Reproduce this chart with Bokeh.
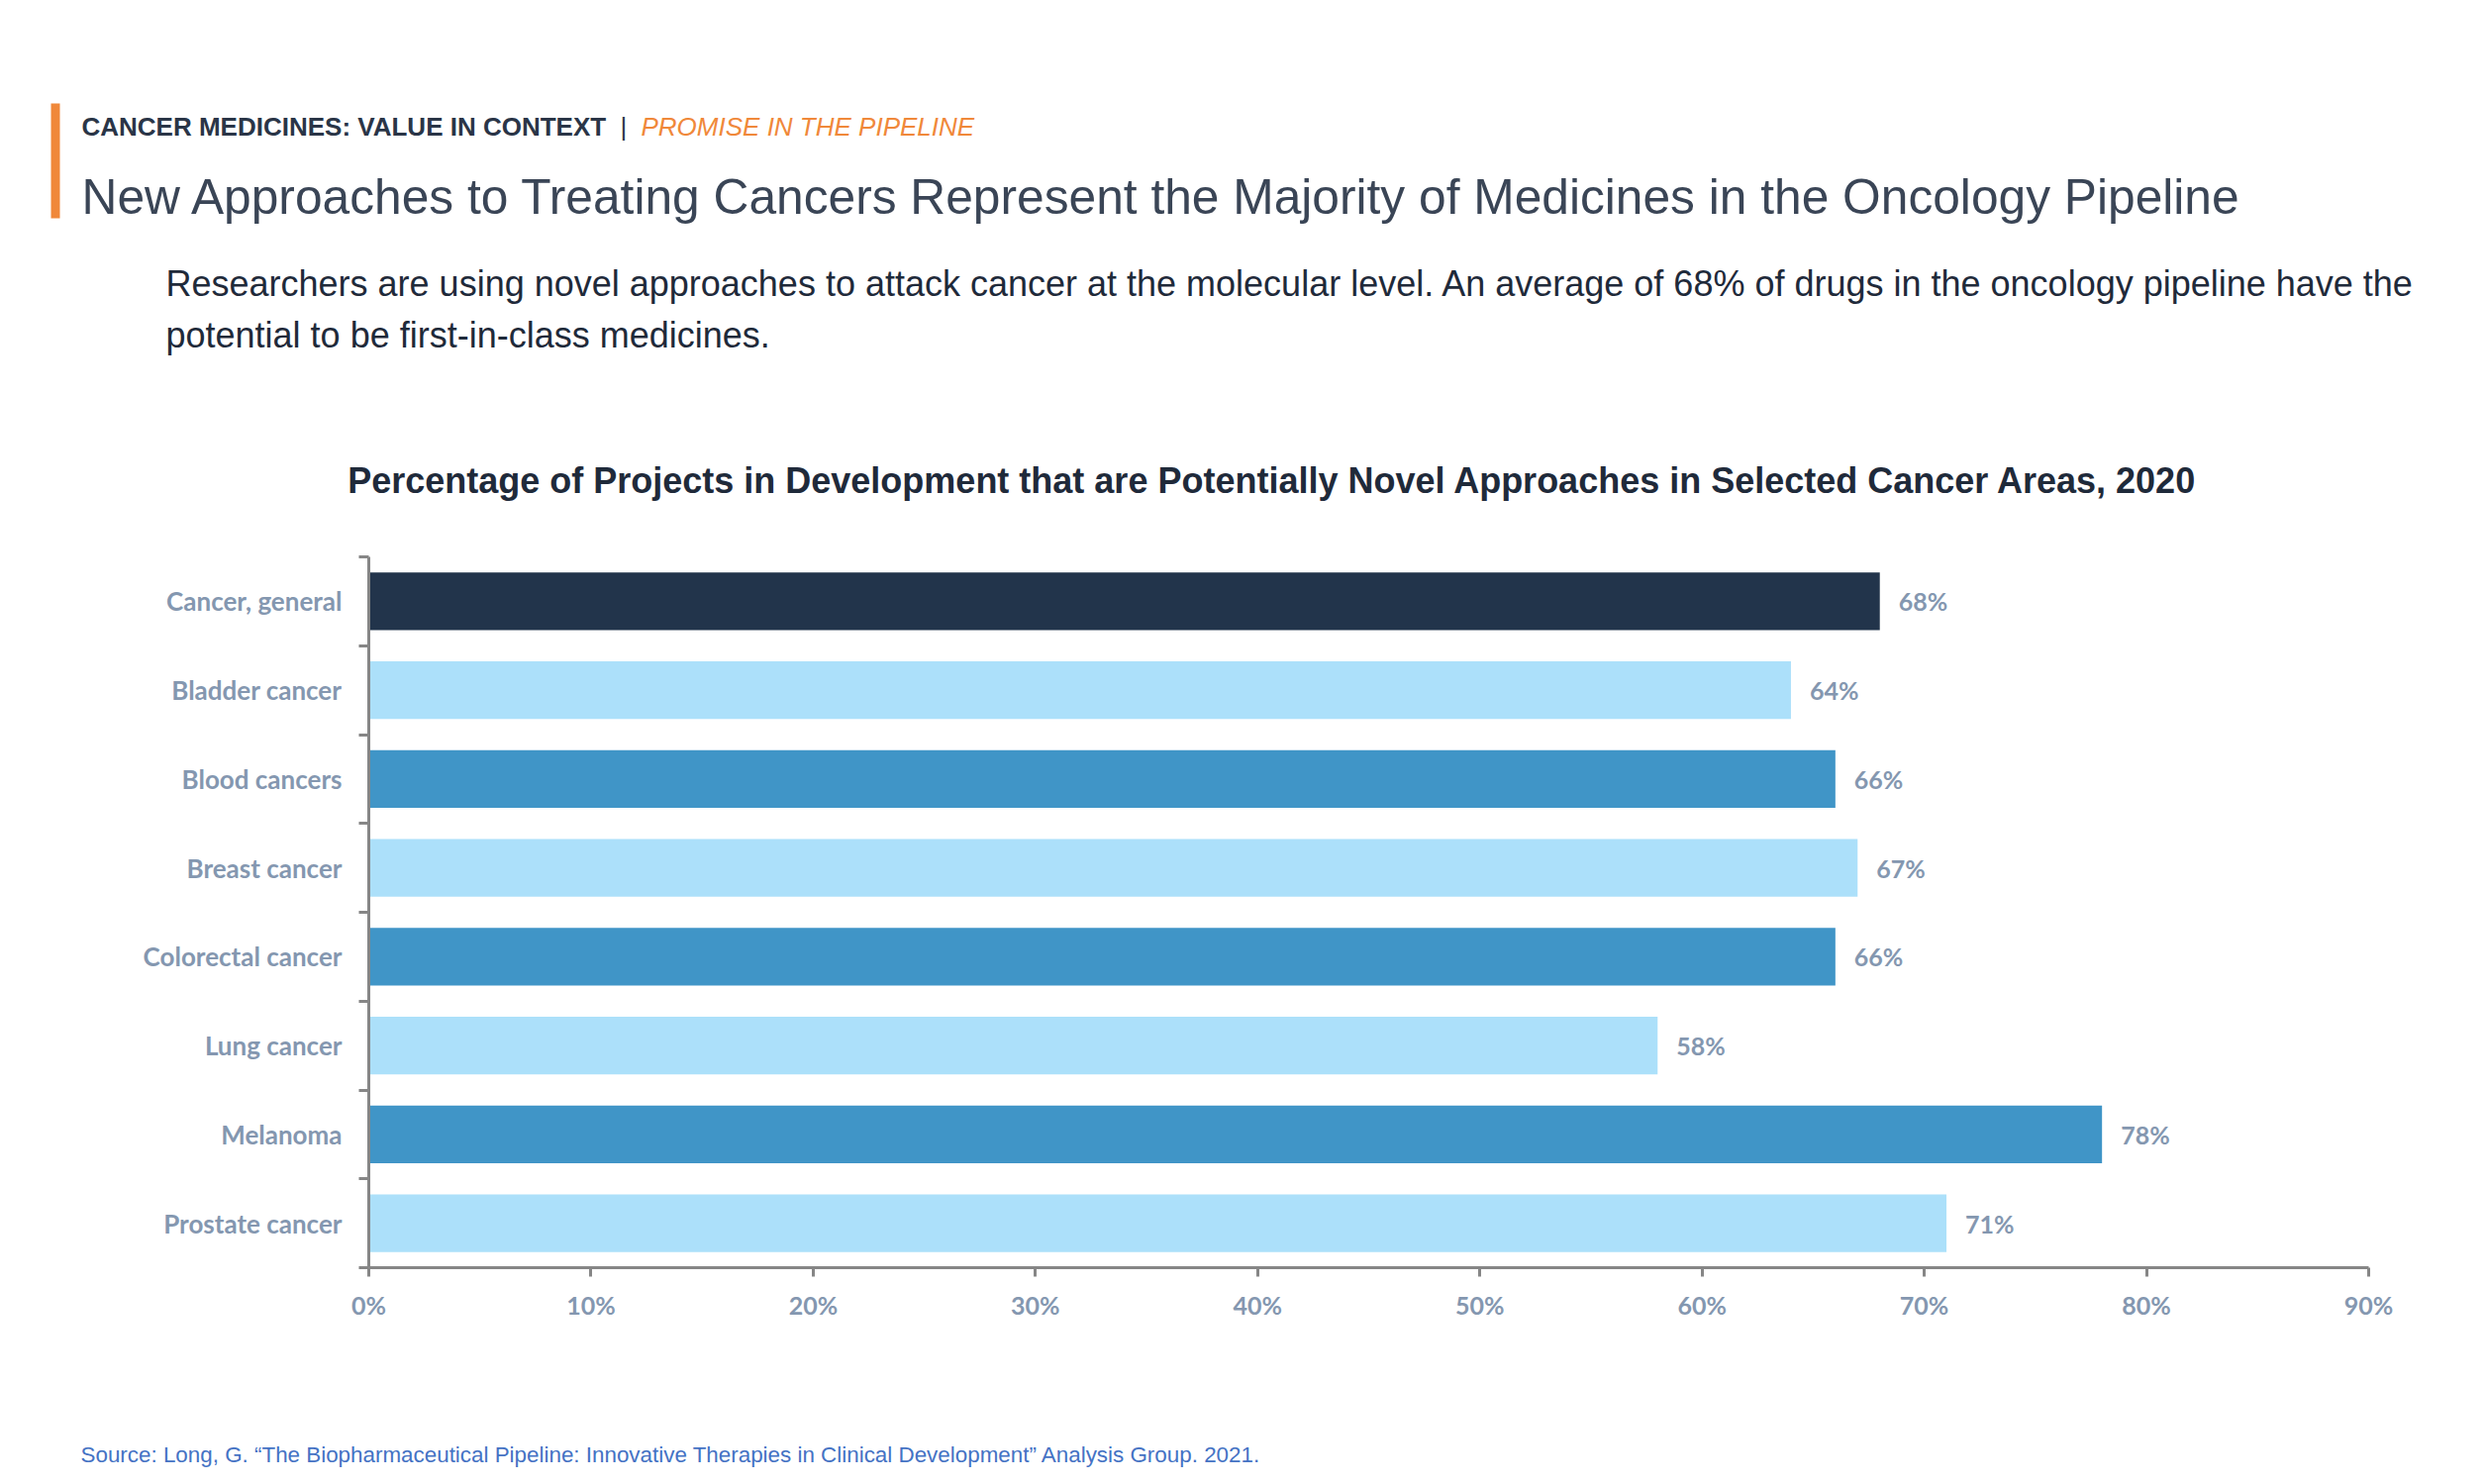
from bokeh.plotting import figure
from bokeh.models import Range1d, Label, FixedTicker, PrintfTickFormatter, ColumnDataSource, BoxAnnotation
from bokeh.embed import file_html
from bokeh.resources import INLINE
from bokeh.core.properties import value

# ---------------- data ----------------
categories = ["Cancer, general", "Bladder cancer", "Blood cancers", "Breast cancer",
              "Colorectal cancer", "Lung cancer", "Melanoma", "Prostate cancer"]
percent_novel = [68, 64, 66, 67, 66, 58, 78, 71]
bar_colors = ["#22344B", "#ACE0FA", "#4095C7", "#ACE0FA",
              "#4095C7", "#ACE0FA", "#4095C7", "#ACE0FA"]
x_ticks = [0, 10, 20, 30, 40, 50, 60, 70, 80, 90]

kicker = "CANCER MEDICINES: VALUE IN CONTEXT"
kicker_sep = "|"
kicker_topic = "PROMISE IN THE PIPELINE"
headline = "New Approaches to Treating Cancers Represent the Majority of Medicines in the Oncology Pipeline"
sub_lines = ["Researchers are using novel approaches to attack cancer at the molecular level. An average of 68% of drugs in the oncology pipeline have the",
             "potential to be first-in-class medicines."]
chart_title = "Percentage of Projects in Development that are Potentially Novel Approaches in Selected Cancer Areas, 2020"
source_note = "Source: Long, G. \u201cThe Biopharmaceutical Pipeline: Innovative Therapies in Clinical Development\u201d Analysis Group. 2021."

# ---------------- layout constants (pixels, top-left origin) ----------------
W, H = 2495, 1483
PX_X0, PX_X1 = 372.0, 2392.0      # where 0% and 90% fall
PX_YTOP, PX_YBOT = 562.0, 1280.0  # top / bottom of category band
X_MAX = 90.0
n = len(categories)

ppx = (PX_X1 - PX_X0) / X_MAX
ppy = (PX_YBOT - PX_YTOP) / n
x_range = Range1d(-PX_X0 / ppx, X_MAX + (W - PX_X1) / ppx)
y_range = Range1d(-(H - PX_YBOT) / ppy, n + PX_YTOP / ppy)

AX_GREY = "#868686"
LBL = "#8497B0"
ORANGE = "#F0883A"

p = figure(width=W, height=H, x_range=x_range, y_range=y_range,
           output_backend="svg", toolbar_location=None, min_border=0)
p.grid.visible = False
p.outline_line_color = None


def txt(x, y, text, size, color, style="normal", font="Liberation Sans", align="left"):
    # y is the vertical centre of the capitals, measured from the top
    p.add_layout(Label(x=x, y=H - y, x_units="screen", y_units="screen", text=text,
                       text_font=font, text_font_style=style, text_font_size=f"{size}px",
                       text_color=color, text_baseline="alphabetic", text_align=align))


# ---------------- header ----------------
p.add_layout(BoxAnnotation(left=51, right=60, top=H - 104, bottom=H - 220,
                           left_units="screen", right_units="screen",
                           top_units="screen", bottom_units="screen",
                           fill_color=ORANGE, fill_alpha=1.0, line_color=None))
txt(82, 127, kicker, 26, "#2A3547", "bold")
txt(626, 127, kicker_sep, 26, "#2A3547")
txt(647, 127, kicker_topic, 26, ORANGE, "italic")
txt(82, 198, headline, 49.7, "#3A4556")
for i, line in enumerate(sub_lines):
    txt(167, 286 + 52 * i, line, 36, "#1F2A3A")
txt(1285, 485, chart_title, 36, "#1F2A3A", "bold", align="center")
txt(81, 1469, source_note, 22.4, "#4472C4")

# ---------------- chart ----------------
ys = [n - i - 0.5 for i in range(n)]
src = ColumnDataSource(dict(y=ys, v=percent_novel, c=bar_colors,
                            lbl=[f"{v}%" for v in percent_novel]))

p.hbar(y="y", left=0, right="v", height=0.65, fill_color="c", line_color=None, source=src)
p.text(x="v", y="y", text="lbl", x_offset=19, text_baseline="middle", text_align="left",
       text_font=value("Lato"), text_font_style="bold", text_font_size="25px",
       text_color=LBL, source=src)

for ax in (p.xaxis[0], p.yaxis[0]):
    ax.fixed_location = 0
    ax.axis_line_color = AX_GREY
    ax.axis_line_width = 3
    ax.major_tick_line_color = AX_GREY
    ax.major_tick_line_width = 3
    ax.minor_tick_line_color = AX_GREY
    ax.minor_tick_line_width = 3
    ax.major_label_text_font = "Lato"
    ax.major_label_text_font_style = "bold"
    ax.major_label_text_color = LBL

p.xaxis.bounds = (0, X_MAX)
p.xaxis.ticker = FixedTicker(ticks=x_ticks)
p.xaxis.formatter = PrintfTickFormatter(format="%d%%")
p.xaxis.major_tick_in = 0
p.xaxis.major_tick_out = 9
p.xaxis.minor_tick_in = 0
p.xaxis.minor_tick_out = 0
p.xaxis.major_label_standoff = 13
p.xaxis.major_label_text_font_size = "25px"

p.yaxis.bounds = (0, n)
p.yaxis.ticker = FixedTicker(ticks=ys, minor_ticks=list(range(n + 1)))
p.yaxis.major_label_overrides = {y: c for y, c in zip(ys, categories)}
p.yaxis.major_tick_in = 0
p.yaxis.major_tick_out = 0
p.yaxis.minor_tick_in = 0
p.yaxis.minor_tick_out = 10
p.yaxis.major_label_standoff = 17
p.yaxis.major_label_text_font_size = "26px"

open("out.html", "w").write(file_html(p, INLINE))
